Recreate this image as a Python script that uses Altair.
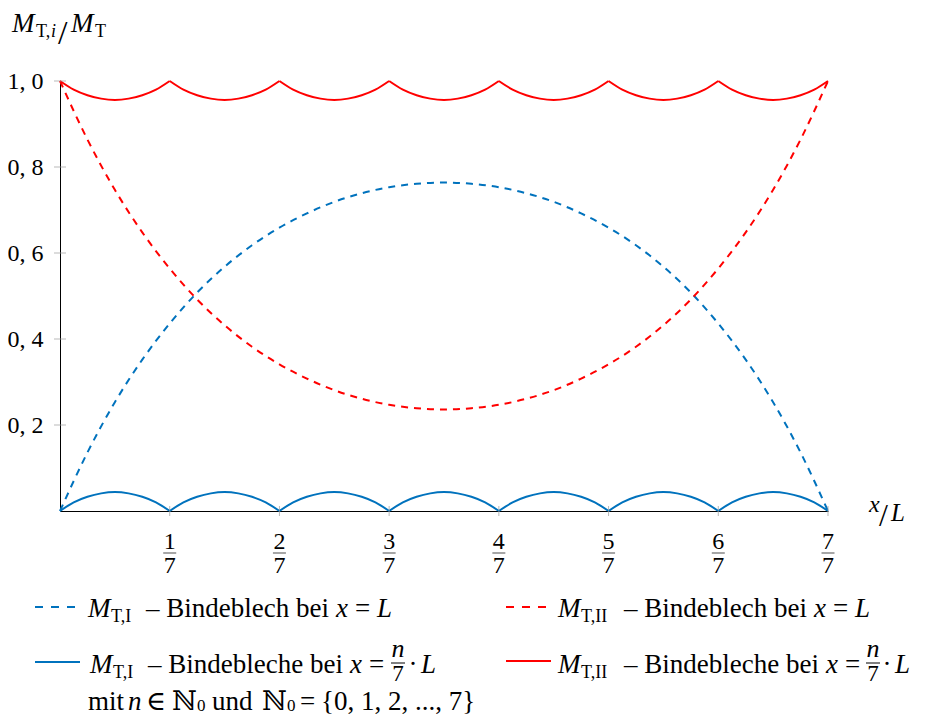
import altair as alt
import pandas as pd

FONT = "'Liberation Serif', 'Times New Roman', 'DejaVu Serif', serif"
BLUE = "#0072BD"
RED = "#FF0000"
GREY = "#9a9a9a"

# ---------------- data ----------------
x_grid = [0.0, 0.25, 0.5, 0.75, 1.0, 1.25, 1.5, 1.75, 2.0, 2.25, 2.5, 2.75, 3.0, 3.25, 3.5,
          3.75, 4.0, 4.25, 4.5, 4.75, 5.0, 5.25, 5.5, 5.75, 6.0, 6.25, 6.5, 6.75, 7.0]

# one batten plate at x = L
m1_single = [0.000, 0.136, 0.253, 0.352, 0.436, 0.508, 0.568, 0.618, 0.659, 0.692, 0.719, 0.739, 0.753, 0.761, 0.764,
             0.761, 0.753, 0.739, 0.719, 0.692, 0.659, 0.618, 0.568, 0.508, 0.436, 0.352, 0.253, 0.136, 0.000]
m2_single = [1.000, 0.864, 0.747, 0.648, 0.564, 0.492, 0.432, 0.382, 0.341, 0.308, 0.281, 0.261, 0.247, 0.239, 0.236,
             0.239, 0.247, 0.261, 0.281, 0.308, 0.341, 0.382, 0.432, 0.492, 0.564, 0.648, 0.747, 0.864, 1.000]

# batten plates at x = n/7 L
x_fine = [0.0, 0.125, 0.25, 0.375, 0.5, 0.625, 0.75, 0.875,
          1.0, 1.125, 1.25, 1.375, 1.5, 1.625, 1.75, 1.875,
          2.0, 2.125, 2.25, 2.375, 2.5, 2.625, 2.75, 2.875,
          3.0, 3.125, 3.25, 3.375, 3.5, 3.625, 3.75, 3.875,
          4.0, 4.125, 4.25, 4.375, 4.5, 4.625, 4.75, 4.875,
          5.0, 5.125, 5.25, 5.375, 5.5, 5.625, 5.75, 5.875,
          6.0, 6.125, 6.25, 6.375, 6.5, 6.625, 6.75, 6.875,
          7.0]
m1_multi = [0.000, 0.020, 0.033, 0.041, 0.044, 0.041, 0.033, 0.020,
            0.000, 0.020, 0.033, 0.041, 0.044, 0.041, 0.033, 0.020,
            0.000, 0.020, 0.033, 0.041, 0.044, 0.041, 0.033, 0.020,
            0.000, 0.020, 0.033, 0.041, 0.044, 0.041, 0.033, 0.020,
            0.000, 0.020, 0.033, 0.041, 0.044, 0.041, 0.033, 0.020,
            0.000, 0.020, 0.033, 0.041, 0.044, 0.041, 0.033, 0.020,
            0.000, 0.020, 0.033, 0.041, 0.044, 0.041, 0.033, 0.020,
            0.000]
m2_multi = [1.000, 0.980, 0.967, 0.959, 0.956, 0.959, 0.967, 0.980,
            1.000, 0.980, 0.967, 0.959, 0.956, 0.959, 0.967, 0.980,
            1.000, 0.980, 0.967, 0.959, 0.956, 0.959, 0.967, 0.980,
            1.000, 0.980, 0.967, 0.959, 0.956, 0.959, 0.967, 0.980,
            1.000, 0.980, 0.967, 0.959, 0.956, 0.959, 0.967, 0.980,
            1.000, 0.980, 0.967, 0.959, 0.956, 0.959, 0.967, 0.980,
            1.000, 0.980, 0.967, 0.959, 0.956, 0.959, 0.967, 0.980,
            1.000]

plate_segments = [0, 1, 2, 3, 4, 5, 6]
x_tick_values = [1, 2, 3, 4, 5, 6, 7]
x_tick_numerators = ["1", "2", "3", "4", "5", "6", "7"]
x_tick_denominator = "7"
y_tick_values = [0.2, 0.4, 0.6, 0.8, 1.0]

# ---------------- tables ----------------
rows_dash = []
for xi, a, b in zip(x_grid, m1_single, m2_single):
    rows_dash.append({"x": xi, "y": a, "series": "I", "key": "d_I"})
    rows_dash.append({"x": xi, "y": b, "series": "II", "key": "d_II"})
df_dash = pd.DataFrame(rows_dash)

rows_solid = []
for seg in plate_segments:
    for xi, a, b in zip(x_fine, m1_multi, m2_multi):
        if seg <= xi <= seg + 1:
            rows_solid.append({"x": xi, "y": a, "series": "I", "key": f"s_I_{seg}"})
            rows_solid.append({"x": xi, "y": b, "series": "II", "key": f"s_II_{seg}"})
df_solid = pd.DataFrame(rows_solid)

df_xt = pd.DataFrame({"x": x_tick_values, "lab": x_tick_numerators})
df_yt = pd.DataFrame({"y": y_tick_values})
dummy = pd.DataFrame({"a": [0]})

color_scale = alt.Scale(domain=["I", "II"], range=[BLUE, RED])

X0, Y0 = 60, 81  # page position of plot origin


def txt(s, px, py, size=27, italic=False, align="left"):
    return alt.Chart(dummy).mark_text(
        font=FONT, fontSize=size, fontStyle="italic" if italic else "normal",
        align=align, baseline="alphabetic", color="black"
    ).encode(x=alt.value(px - X0), y=alt.value(py - Y0), text=alt.value(s))


def sample(x1, x2, py, color, dash):
    m = alt.Chart(dummy).mark_rule(color=color, strokeWidth=2, strokeDash=dash) if dash else \
        alt.Chart(dummy).mark_rule(color=color, strokeWidth=2)
    return m.encode(x=alt.value(x1 - X0), x2=alt.value(x2 - X0), y=alt.value(py - Y0))


x_enc = alt.X("x:Q", title=None,
              scale=alt.Scale(domain=[0, 7], nice=False, zero=False),
              axis=alt.Axis(values=x_tick_values, labels=False, ticks=False, grid=False,
                            domainColor="black", domainWidth=1))
y_enc = alt.Y("y:Q", title=None,
              scale=alt.Scale(domain=[0, 1], nice=False),
              axis=alt.Axis(values=y_tick_values,
                            labelExpr="replace(format(datum.value, '.1f'), '.', ', ')",
                            labelFont=FONT, labelFontSize=24, labelColor="black",
                            labelPadding=17, labelFlush=False, labelOverlap=False,
                            ticks=False, grid=False, domainColor="black", domainWidth=1))

dashed = alt.Chart(df_dash).mark_line(interpolate="monotone", strokeWidth=2, strokeDash=[7, 6]).encode(
    x=x_enc, y=y_enc,
    color=alt.Color("series:N", scale=color_scale, legend=None),
    detail="key:N")

solid = alt.Chart(df_solid).mark_line(interpolate="monotone", strokeWidth=2).encode(
    x=alt.X("x:Q", title=None), y=alt.Y("y:Q", title=None),
    color=alt.Color("series:N", scale=color_scale, legend=None),
    detail="key:N")

ytick = alt.Chart(df_yt).mark_tick(orient="horizontal", size=12, thickness=1, color=GREY).encode(
    x=alt.datum(0), y=alt.Y("y:Q", title=None))
xtick = alt.Chart(df_xt).mark_tick(orient="vertical", size=10, thickness=1, color=GREY).encode(
    x=alt.X("x:Q", title=None), y=alt.datum(0))

num = alt.Chart(df_xt).mark_text(font=FONT, fontSize=24, align="center", baseline="alphabetic",
                                 color="black").encode(
    x=alt.X("x:Q", title=None), y=alt.value(549 - Y0), text="lab:N")
bar = alt.Chart(df_xt).mark_tick(orient="horizontal", size=13, thickness=1, color="black").encode(
    x=alt.X("x:Q", title=None), y=alt.value(553 - Y0))
den = alt.Chart(df_xt).mark_text(font=FONT, fontSize=24, align="center", baseline="alphabetic",
                                 color="black").encode(
    x=alt.X("x:Q", title=None), y=alt.value(573 - Y0), text=alt.value(x_tick_denominator))

texts = [
    # y axis title  M_T,i / M_T
    txt("M", 12, 32, 27, True), txt("T,", 36, 37, 18), txt("i", 51, 37, 18, True),
    txt("/", 58, 44, 34), txt("M", 71, 32, 27, True), txt("T", 95, 37, 18),
    # x axis title x / L
    txt("x", 869, 512, 24, True), txt("/", 879, 526, 32), txt("L", 891, 521, 25, True),
    # legend row 1 left
    txt("M", 88, 617, 27, True), txt("T,I", 111, 622, 18),
    txt("– Bindeblech bei", 146, 617), txt("x", 336, 617, 27, True),
    txt("=", 355, 617), txt("L", 377, 617, 27, True),
    # legend row 1 right
    txt("M", 558, 617, 27, True), txt("T,II", 581, 622, 18),
    txt("– Bindeblech bei", 624, 617), txt("x", 814, 617, 27, True),
    txt("=", 833, 617), txt("L", 855, 617, 27, True),
    # legend row 2 left
    txt("M", 90, 673, 27, True), txt("T,I", 113, 678, 18),
    txt("– Bindebleche bei", 148, 673), txt("x", 350, 673, 27, True),
    txt("=", 369, 673), txt("n", 398, 657, 26, True, "center"), txt("7", 398, 681, 23, False, "center"),
    txt("·", 413, 673, 27, False, "center"), txt("L", 421, 673, 27, True),
    # legend row 2 right
    txt("M", 558, 673, 27, True), txt("T,II", 581, 678, 18),
    txt("– Bindebleche bei", 624, 673), txt("x", 826, 673, 27, True),
    txt("=", 845, 673), txt("n", 873, 657, 26, True, "center"), txt("7", 873, 681, 23, False, "center"),
    txt("·", 887, 673, 27, False, "center"), txt("L", 895, 673, 27, True),
    # legend row 3
    txt("mit", 88, 710), txt("n", 128, 710, 27, True), txt("∈", 146, 710),
    txt("ℕ", 172, 710), txt("0", 197, 711, 17), txt("und", 212, 710),
    txt("ℕ", 262, 710), txt("0", 287, 711, 17), txt("=", 300, 710),
    txt("{0, 1, 2, ..., 7}", 321, 710),
]

frac_bars = [
    alt.Chart(dummy).mark_rule(color="black", strokeWidth=1).encode(
        x=alt.value(391 - X0), x2=alt.value(405 - X0), y=alt.value(663 - Y0)),
    alt.Chart(dummy).mark_rule(color="black", strokeWidth=1).encode(
        x=alt.value(866 - X0), x2=alt.value(880 - X0), y=alt.value(663 - Y0)),
]

samples = [
    sample(35, 76, 607, BLUE, [8, 8]),
    sample(506, 547, 607, RED, [8, 8]),
    sample(35, 80, 662, BLUE, None),
    sample(506, 551, 661, RED, None),
]

chart = alt.layer(
    dashed, solid, ytick, xtick, num, bar, den, *samples, *frac_bars, *texts
).properties(
    width=768, height=430,
    autosize=alt.AutoSizeParams(type="none"),
    padding={"left": 52, "top": 73, "right": 90, "bottom": 205},
).configure_view(stroke=None)

chart.save("out.html", embed_options={"renderer": "svg", "actions": False})
